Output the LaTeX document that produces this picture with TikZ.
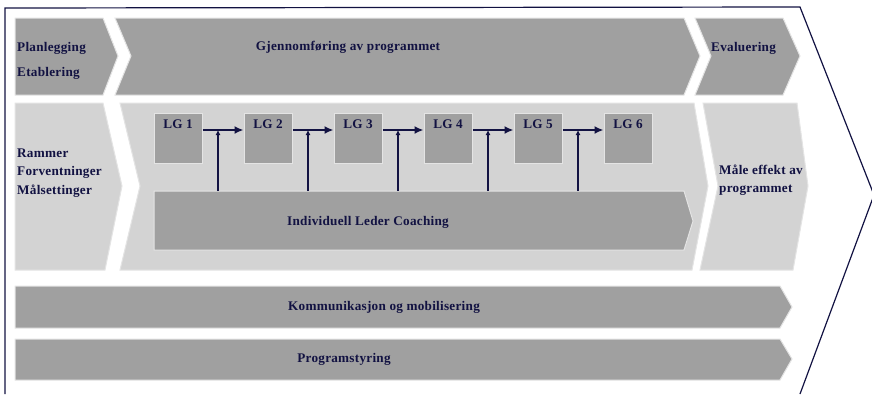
\documentclass[tikz,border=0pt]{standalone}
\usepackage{fontspec}
\setmainfont{Liberation Serif}[LetterSpace=2]
\usetikzlibrary{arrows.meta}
\definecolor{bardark}{RGB}{160,160,160}
\definecolor{barlight}{RGB}{211,211,211}
\definecolor{baredge}{RGB}{228,228,228}
\definecolor{inkblue}{RGB}{18,18,66}

\begin{document}
\begin{tikzpicture}[x=1pt, y=-1pt,
  dark/.style={fill=bardark, draw=baredge, line width=1pt},
  light/.style={fill=barlight, draw=baredge, line width=1pt},
  txt/.style={text=inkblue, font=\fontsize{13.2}{16}\selectfont\bfseries, inner sep=0pt},
  lgbox/.style={dark, minimum width=48, minimum height=50, inner sep=0pt},
  lglabel/.style={txt, anchor=north, yshift=-7pt},
  flow/.style={draw=inkblue, line width=2.4pt, -{Latex[length=9pt,width=8pt]}},
  lift/.style={draw=inkblue, line width=1.6pt, -{Latex[length=5pt,width=5pt]}}]

\useasboundingbox (0,0) rectangle (872,394);

\def\planshape{(15,18) -- (103,18) -- (118,56) -- (103,95) -- (15,95) -- cycle}
\def\gjenshape{(115,18) -- (684,18) -- (700,56) -- (684,95) -- (115,95) -- (131,56) -- cycle}
\def\evalshape{(695,18) -- (783,18) -- (800,56) -- (783,95) -- (695,95) -- (711,56) -- cycle}
\def\rammeshape{(15,103) -- (103,103) -- (122,186) -- (105,270) -- (15,270) -- cycle}
\def\midshape{(120,103) -- (694,103) -- (708,186) -- (692,270) -- (120,270) -- (140,186) -- cycle}
\def\maaleshape{(703,103) -- (797,103) -- (808,186) -- (793,270) -- (700,270) -- (718,186) -- cycle}
\def\coachshape{(154,191) -- (684,191) -- (693,221) -- (684,250) -- (154,250) -- cycle}
\def\kommshape{(15,286) -- (780,286) -- (792,307) -- (780,328) -- (15,328) -- cycle}
\def\progshape{(15,339) -- (780,339) -- (792,359) -- (780,380) -- (15,380) -- cycle}

\path[dark] \planshape;
\path[dark] \gjenshape;
\path[dark] \evalshape;
\path[light] \rammeshape;
\path[light] \midshape;
\path[light] \maaleshape;
\path[dark] \coachshape;
\path[dark] \kommshape;
\path[dark] \progshape;

\draw[inkblue, line width=1.2pt] (5,394) -- (5,8) -- (800,7) -- (874,195) -- (800,394);

\node[txt, align=left, anchor=west, font=\fontsize{13.2}{25}\selectfont\bfseries] (plan) at (17,61) {Planlegging\\Etablering};
\node[txt] (gjen) at (348,47) {Gjennomføring av programmet};
\node[txt, anchor=west] (eval) at (711,48) {Evaluering};
\node[txt, align=left, anchor=west, font=\fontsize{13.2}{18.5}\selectfont\bfseries] (ramme) at (17,173) {Rammer\\Forventninger\\Målsettinger};
\node[txt, align=left, anchor=west, font=\fontsize{13.2}{18}\selectfont\bfseries] (maale) at (719,180) {Måle effekt av\\programmet};
\node[txt] (coach) at (368,222) {Individuell Leder Coaching};
\node[txt] (komm) at (384,307) {Kommunikasjon og mobilisering};
\node[txt] (prog) at (344,359) {Programstyring};

\node[lgbox, label={[lglabel]north:LG 1}] (lg1) at (178,138) {};
\node[lgbox, label={[lglabel]north:LG 2}] (lg2) at (268,138) {};
\node[lgbox, label={[lglabel]north:LG 3}] (lg3) at (358,138) {};
\node[lgbox, label={[lglabel]north:LG 4}] (lg4) at (448,138) {};
\node[lgbox, label={[lglabel]north:LG 5}] (lg5) at (538,138) {};
\node[lgbox, label={[lglabel]north:LG 6}] (lg6) at (628,138) {};

\coordinate (a1) at ([yshift=8pt]lg1.east);
\coordinate (a2) at ([yshift=8pt]lg2.east);
\coordinate (a3) at ([yshift=8pt]lg3.east);
\coordinate (a4) at ([yshift=8pt]lg4.east);
\coordinate (a5) at ([yshift=8pt]lg5.east);

\draw[flow] (a1) -- (a1 -| lg2.west);
\draw[flow] (a2) -- (a2 -| lg3.west);
\draw[flow] (a3) -- (a3 -| lg4.west);
\draw[flow] (a4) -- (a4 -| lg5.west);
\draw[flow] (a5) -- (a5 -| lg6.west);

\coordinate (c1) at (218,191);
\coordinate (c2) at (308,191);
\coordinate (c3) at (398,191);
\coordinate (c4) at (488,191);
\coordinate (c5) at (578,191);

\draw[lift] (c1) -- (c1 |- a1);
\draw[lift] (c2) -- (c2 |- a2);
\draw[lift] (c3) -- (c3 |- a3);
\draw[lift] (c4) -- (c4 |- a4);
\draw[lift] (c5) -- (c5 |- a5);

\end{tikzpicture}
\end{document}
